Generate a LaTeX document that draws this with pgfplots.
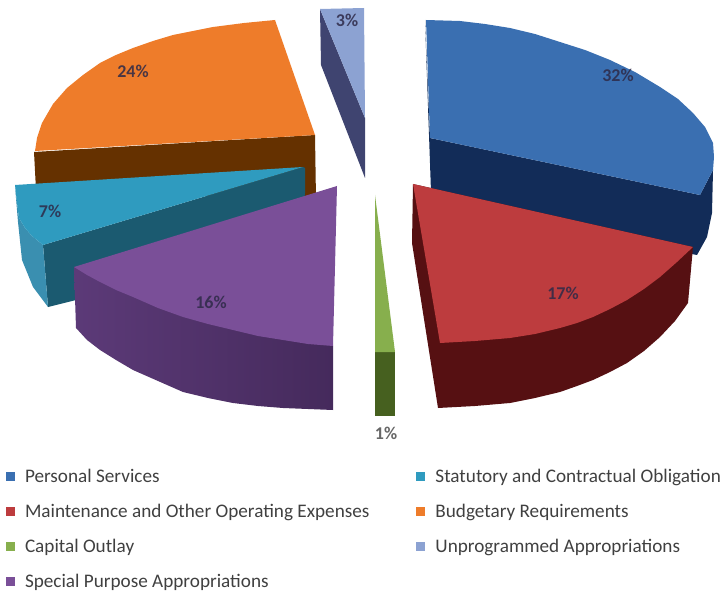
\documentclass[border=0pt]{standalone}
\usepackage{pgfplots}
\pgfplotsset{compat=1.18}
\usepackage{fontspec}
\setmainfont{Carlito}
\definecolor{bluetop}{HTML}{3A6FB1}\definecolor{blueside}{HTML}{122C58}
\definecolor{redtop}{HTML}{BD3C3E}\definecolor{redside}{HTML}{561012}
\definecolor{greentop}{HTML}{87AF4D}\definecolor{greenside}{HTML}{46601F}
\definecolor{purptop}{HTML}{7A4F98}\definecolor{purpsideL}{HTML}{5C3A78}\definecolor{purpsideR}{HTML}{452A5C}
\definecolor{tealtop}{HTML}{2F9BBF}\definecolor{tealside}{HTML}{1B5A70}\definecolor{tealout}{HTML}{3A8FB0}
\definecolor{orangetop}{HTML}{EE7C2A}\definecolor{orangeside}{HTML}{653100}
\definecolor{lbluetop}{HTML}{8CA2D2}\definecolor{lblueside}{HTML}{3F4470}
\definecolor{lab}{HTML}{2E2A48}
\begin{document}
\begin{tikzpicture}
\begin{axis}[
  scale only axis, width=722pt, height=593pt,
  xmin=0, xmax=722, ymin=0, ymax=593, y dir=reverse,
  axis lines=none, clip=true,
  every axis plot/.append style={draw=none, forget plot},
  legend cell align=left,
  transpose legend, legend columns=4,
  legend style={at={(axis cs:6,467)}, anchor=north west, draw=none, fill=none,
    font=\fontsize{19.2}{21}\selectfont, text=black!75, inner sep=0pt, outer sep=0pt,
    row sep=16.2pt,
    /tikz/every odd column/.append style={column sep=9pt},
    /tikz/every even column/.append style={column sep=45pt}},
]
% orange
\addplot[fill=orangeside] coordinates {(34,152)(315,135)(316,200)(36,190)} --cycle;
\addplot[fill=orangetop] coordinates {(35,151)(37,138)(42,123)(53,104)(67,88)(83,75)(100,63)(116,55)(133,48)(153,41)(173,35)(193,31)(213,27)(244,23)(275,20)(315,135)} --cycle;
% unprogrammed
\addplot[fill=lblueside] coordinates {(320,9)(365,118)(365,178)(321,65)} --cycle;
\addplot[fill=lbluetop] coordinates {(320,9)(364,8)(365,118)} --cycle;
% blue
\addplot[fill=blueside] coordinates {(425,20)(430,138)(700,195)(713,170)(712,213)(707,237)(697,255)(560,230)(431,192)} --cycle;
\addplot[fill=bluetop] coordinates {(426,20)(460,21)(485,24)(510,28)(535,34)(560,42)(585,50)(610,60)(635,72)(660,87)(678,99)(693,113)(705,127)(713,143)(714,157)(713,170)(700,195)(430,138)} --cycle;
% teal
\addplot[fill=tealside] coordinates {(303,167)(305,168)(305,193)(300,240)(76,300)(48,307)(43,245)} --cycle;
\addplot[fill=tealout] coordinates {(43,245)(48,307)(33,287)(22,260)(18,222)(15,186)(19,218)(25,228)(32,236)} --cycle;
\addplot[fill=tealtop] coordinates {(15,185)(303,167)(43,245)(32,236)(25,228)(19,218)(17,203)} --cycle;
% purple
\addplot[left color=purpsideL, right color=purpsideR] coordinates {(74,267)(76,328)(87,340)(100,350)(116,360)(133,370)(158,381)(183,392)(208,398)(233,403)(258,406)(283,408)(308,409)(333,410)(333,346)} --cycle;
\addplot[fill=purptop] coordinates {(337,186)(333,346)(308,344)(283,340)(258,336)(233,330)(208,324)(183,317)(158,308)(133,297)(116,290)(100,282)(87,275)(74,267)} --cycle;
% red
\addplot[fill=redside] coordinates {(413,184)(412,243)(438,408)(475,406)(510,403)(535,398)(560,392)(577,386)(593,380)(610,372)(627,363)(644,351)(660,337)(675,321)(688,303)(693,247)} --cycle;
\addplot[fill=redtop] coordinates {(413,184)(693,247)(677,262)(660,277)(644,289)(627,300)(610,309)(593,317)(577,323)(560,328)(535,334)(510,338)(475,341)(440,343)} --cycle;
% green
\addplot[fill=greenside] coordinates {(375,352)(395,352)(395,416)(375,416)} --cycle;
\addplot[fill=greentop] coordinates {(375,195)(395,352)(375,352)} --cycle;
% percentage labels
\begin{scope}[every node/.style={font=\fontsize{18}{20}\bfseries\selectfont, text=lab, opacity=0.85}]
\node at (axis cs:618,75) {32\%};
\node at (axis cs:563,293) {17\%};
\node[text=black!70] at (axis cs:386,433) {1\%};
\node at (axis cs:211,302) {16\%};
\node at (axis cs:50,211) {7\%};
\node at (axis cs:133,71) {24\%};
\node at (axis cs:347,20) {3\%};
\end{scope}
% legend
\addlegendimage{only marks, mark=square*, mark size=4pt, color=bluetop}
\addlegendentry{Personal Services}
\addlegendimage{only marks, mark=square*, mark size=4pt, color=redtop}
\addlegendentry{Maintenance and Other Operating Expenses}
\addlegendimage{only marks, mark=square*, mark size=4pt, color=greentop}
\addlegendentry{Capital Outlay}
\addlegendimage{only marks, mark=square*, mark size=4pt, color=purptop}
\addlegendentry{Special Purpose Appropriations}
\addlegendimage{only marks, mark=square*, mark size=4pt, color=tealtop}
\addlegendentry{Statutory and Contractual Obligation}
\addlegendimage{only marks, mark=square*, mark size=4pt, color=orangetop}
\addlegendentry{Budgetary Requirements}
\addlegendimage{only marks, mark=square*, mark size=4pt, color=lbluetop}
\addlegendentry{Unprogrammed Appropriations}
\end{axis}
\pgfresetboundingbox
\path[use as bounding box] (0,0) rectangle (722pt,593pt);
\end{tikzpicture}
\end{document}
